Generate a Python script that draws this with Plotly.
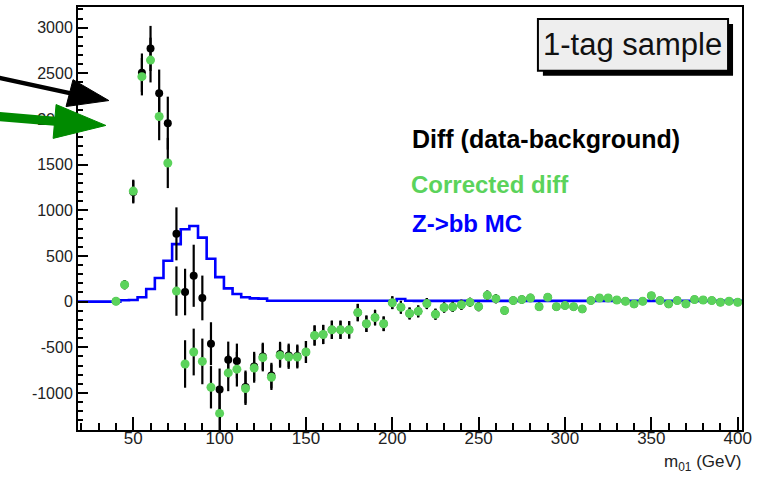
import plotly.graph_objects as go

# ---------------- data ----------------
mass = list(range(40, 405, 5))  # bin centres (GeV)

diff = [3, 185, 1200, 2507, 2772, 2281, 1954, 742, 105, 283,
        40, -461, -963, -638, -650, -935, -710, -600, -810, -575,
        -590, -595, -552, -371, -360, -309, -309, -309, -120, -243,
        -175, -243, -12, -62, -130, -107, -22, -138, -65, -58,
        -35, -8, -55, 70, 32, -98, 11, 22, 40, -55,
        47, -55, -44, -55, -80, 11, 40, 40, 18, 4,
        -25, 4, 65, 11, -25, 11, -25, 22, 18, 11,
        -7, 4, -7]
diff_err = [40, 50, 125, 210, 247, 260, 290, 290, 255, 340,
            245, 235, 230, 200, 190, 180, 160, 150, 140, 135,
            130, 125, 120, 110, 105, 100, 100, 95, 95, 90,
            85, 80, 70, 70, 65, 65, 60, 60, 55, 55,
            55, 50, 50, 50, 50, 45, 45, 45, 45, 45,
            40, 40, 40, 40, 40, 40, 40, 35, 35, 35,
            35, 35, 35, 35, 35, 35, 30, 30, 30, 30,
            30, 30, 30]

corr = [3, 185, 1210, 2463, 2645, 2027, 1518, 115, -683, -552,
        -655, -938, -1224, -781, -740, -952, -728, -614, -828, -589,
        -607, -607, -552, -371, -360, -309, -309, -309, -120, -243,
        -175, -243, -12, -62, -130, -107, -22, -138, -65, -58,
        -35, -8, -55, 70, 32, -98, 11, 22, 40, -55,
        47, -55, -44, -55, -80, 11, 40, 40, 18, 4,
        -25, 4, 65, 11, -25, 11, -25, 22, 18, 11,
        -7, 4, -7]
corr_err = [40, 50, 125, 205, 245, 260, 275, 270, 260, 256,
            250, 232, 230, 200, 190, 180, 160, 150, 140, 135,
            130, 125, 120, 110, 105, 100, 100, 95, 95, 90,
            85, 80, 70, 70, 65, 65, 60, 60, 55, 55,
            55, 50, 50, 50, 50, 45, 45, 45, 45, 45,
            40, 40, 40, 40, 40, 40, 40, 35, 35, 35,
            35, 35, 35, 35, 35, 35, 30, 30, 30, 30,
            30, 30, 30]

mc_mass = list(range(15, 410, 5))
mc = [0, 0, 0, 0, 0, 0, 15, 18, 47, 138,
      258, 447, 629, 792, 828, 701, 470, 268, 145, 84,
      47, 35, 33, 10, 10, 10, 10, 10, 10, 10,
      10, 10, 10, 10, 10, 10, 10, 10, 28, 10,
      8, 8, 8, 8, 8, 8, 8, 8, 8, 8,
      8, 8, 8, 8, 8, 8, 8, 8, 8, 8,
      8, 8, 8, 8, 8, 8, 8, 8, 8, 8,
      8, 8, 8, 8, 8, 8, 8, 8, 8]

x_ticks = [50, 100, 150, 200, 250, 300, 350, 400]
y_ticks = [-1000, -500, 0, 500, 1000, 1500, 2000, 2500, 3000]
y_ticktext = ["-1000", "-500", "0", "500", "1000", "1500", "2000", "2500", "3000"]

legend_labels = ["Diff (data-background)", "Corrected diff", "Z->bb MC"]
title_text = "1-tag sample"
x_title = "m<sub>01</sub> (GeV)"

# ---------------- layout geometry (pixels) ----------------
W, H = 757, 477
L, R, T, B = 78, 12, 5, 47
PW, PH = W - L - R, H - T - B


def px(xp):
    return (xp - L) / PW


def py(yp):
    return (H - B - yp) / PH


FONT = "Liberation Sans, Arial, Helvetica, sans-serif"
GREEN = "#5bd35b"
BLUE = "#0000ff"

fig = go.Figure()

fig.add_trace(go.Scatter(
    x=mc_mass, y=mc, mode="lines", line=dict(color=BLUE, width=2.6, shape="hvh"),
    name=legend_labels[2], showlegend=False, hoverinfo="skip"))

fig.add_trace(go.Scatter(
    x=mass, y=diff, mode="markers",
    marker=dict(color="black", size=8),
    error_y=dict(type="data", array=diff_err, color="black", thickness=2.2, width=0),
    name=legend_labels[0], showlegend=False))

fig.add_trace(go.Scatter(
    x=mass, y=corr, mode="markers",
    marker=dict(color=GREEN, size=9),
    error_y=dict(type="data", array=corr_err, color="black", thickness=2.2, width=0),
    name=legend_labels[1], showlegend=False))

shapes = []
# title box shadow and box
shapes.append(dict(type="rect", xref="paper", yref="paper",
                   x0=px(545), x1=px(736), y0=py(22), y1=py(74),
                   fillcolor="black", line=dict(width=0), layer="above"))
shapes.append(dict(type="rect", xref="paper", yref="paper",
                   x0=px(540), x1=px(731), y0=py(17), y1=py(69),
                   fillcolor="#eeeeee", line=dict(color="black", width=2), layer="above"))

# arrows (annotation graphics, pixel geometry)
def seg(x0, y0, x1, y1, color, width):
    return dict(type="line", xref="paper", yref="paper",
                x0=px(x0), y0=py(y0), x1=px(x1), y1=py(y1),
                line=dict(color=color, width=width), layer="above")


def tri(pts, color):
    path = "M " + " L ".join(f"{px(a):.5f},{py(b):.5f}" for a, b in pts) + " Z"
    return dict(type="path", xref="paper", yref="paper", path=path,
                fillcolor=color, line=dict(color=color, width=1), layer="above")


shapes.append(seg(-2, 76, 72, 92, "black", 4.5))
shapes.append(tri([(73, 78), (109, 99), (66, 105)], "black"))
shapes.append(seg(-2, 115, 58, 120, "#008a00", 9))
shapes.append(tri([(56, 103), (106, 124), (53, 137)], "#008a00"))

annotations = [
    dict(xref="paper", yref="paper", x=px(411), y=py(138), xanchor="left", yanchor="middle",
         text=f"<b>{legend_labels[0]}</b>", showarrow=False,
         font=dict(family=FONT, size=25, color="black")),
    dict(xref="paper", yref="paper", x=px(410), y=py(183), xanchor="left", yanchor="middle",
         text=f"<b>{legend_labels[1]}</b>", showarrow=False,
         font=dict(family=FONT, size=24, color=GREEN)),
    dict(xref="paper", yref="paper", x=px(411), y=py(223), xanchor="left", yanchor="middle",
         text=f"<b>{legend_labels[2]}</b>", showarrow=False,
         font=dict(family=FONT, size=24, color=BLUE)),
    dict(xref="paper", yref="paper", x=px(635), y=py(43), xanchor="center", yanchor="middle",
         text=title_text, showarrow=False,
         font=dict(family=FONT, size=31, color="#111111")),
    dict(xref="paper", yref="paper", x=px(746), y=py(463), xanchor="right", yanchor="middle",
         text=x_title, showarrow=False,
         font=dict(family=FONT, size=17, color="#222222")),
]

fig.update_layout(
    width=W, height=H, autosize=False,
    margin=dict(l=L, r=R, t=T, b=B, pad=0),
    plot_bgcolor="white", paper_bgcolor="white",
    showlegend=False,
    shapes=shapes, annotations=annotations,
    font=dict(family=FONT, color="#222222"),
)

fig.update_xaxes(
    range=[18, 402.5], tickvals=x_ticks, ticks="inside", ticklen=13, tickwidth=2,
    tickcolor="black", showline=True, linecolor="black", linewidth=2, mirror=True,
    showgrid=False, zeroline=False, ticklabeloverflow="allow", ticklabelstandoff=-8,
    tickfont=dict(family=FONT, size=17, color="#222222"),
    minor=dict(dtick=10, tick0=0, ticks="inside", ticklen=7, tickwidth=2, tickcolor="black",
               showgrid=False),
)
fig.update_yaxes(
    range=[-1406, 3226], tickvals=y_ticks, ticktext=y_ticktext, ticks="inside", ticklen=10,
    tickwidth=2, tickcolor="black", showline=True, linecolor="black", linewidth=2,
    mirror=True, showgrid=False, zeroline=False,
    tickfont=dict(family=FONT, size=16, color="#222222"),
    minor=dict(dtick=100, tick0=0, ticks="inside", ticklen=5, tickwidth=2, tickcolor="black",
               showgrid=False),
)

fig.write_html("out.html")
